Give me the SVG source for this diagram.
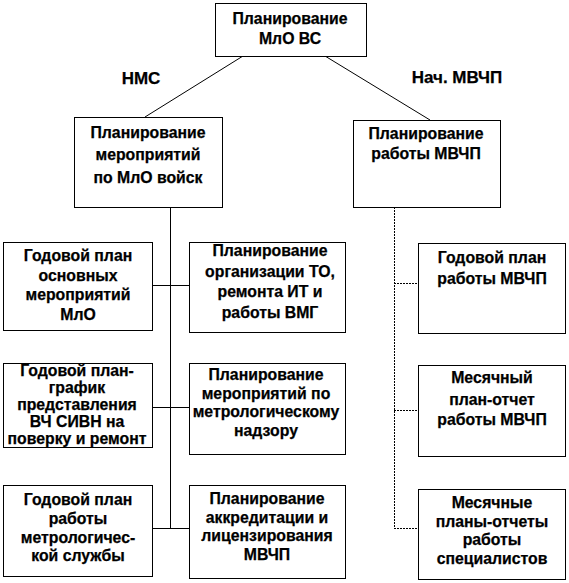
<svg xmlns="http://www.w3.org/2000/svg" width="569" height="583" viewBox="0 0 569 583">
<style>
.box{fill:#fff;stroke:#000;stroke-width:1}
.t{font-family:"Liberation Sans",Arial,sans-serif;font-weight:bold;font-size:15.8px;fill:#000;stroke:#000;stroke-width:0.25;text-anchor:middle}
.lbl{font-size:17px}
.c{fill:none;stroke:#000;stroke-width:1}
.d{fill:none;stroke:#000;stroke-width:1;stroke-dasharray:2 1}
</style>
<rect width="569" height="583" fill="#fff"/>
<g id="connectors">
<line class="c" x1="243" y1="56" x2="145" y2="117"/>
<line class="c" x1="325" y1="56" x2="430" y2="120"/>
<line class="c" x1="170.5" y1="207" x2="170.5" y2="528"/>
<line class="c" x1="152" y1="285.5" x2="189" y2="285.5"/>
<line class="c" x1="152" y1="407.5" x2="189" y2="407.5"/>
<line class="c" x1="152" y1="528.5" x2="189" y2="528.5"/>
<line class="d" x1="394.5" y1="207" x2="394.5" y2="528"/>
<line class="d" x1="394" y1="283.5" x2="418" y2="283.5"/>
<line class="d" x1="394" y1="410.5" x2="418" y2="410.5"/>
<line class="d" x1="394" y1="528.5" x2="418" y2="528.5"/>
</g>
<g id="labels">
<text class="t lbl" x="141" y="83.5">НМС</text>
<text class="t lbl" x="457" y="82.5">Нач. МВЧП</text>
</g>
<g id="top">
<rect class="box" x="215.5" y="3.5" width="151" height="53"/>
<text class="t" x="290" y="24">Планирование</text>
<text class="t" x="290" y="43.5">МлО ВС</text>
</g>
<g id="plan-troops">
<rect class="box" x="74.5" y="117.5" width="148" height="90"/>
<text class="t" x="148" y="138">Планирование</text>
<text class="t" x="148" y="160">мероприятий</text>
<text class="t" x="148" y="183">по МлО войск</text>
</g>
<g id="plan-mvchp">
<rect class="box" x="353.5" y="120.5" width="147" height="87"/>
<text class="t" x="426" y="139">Планирование</text>
<text class="t" x="426" y="159">работы МВЧП</text>
</g>
<g id="n1">
<rect class="box" x="3.5" y="242.5" width="149" height="88"/>
<text class="t" x="78" y="261">Годовой план</text>
<text class="t" x="78" y="280.5">основных</text>
<text class="t" x="78" y="300">мероприятий</text>
<text class="t" x="78" y="320">МлО</text>
</g>
<g id="n2">
<rect class="box" x="189.5" y="242.5" width="156" height="90"/>
<text class="t" x="270" y="256">Планирование</text>
<text class="t" x="270" y="277">организации ТО,</text>
<text class="t" x="270" y="297">ремонта ИТ и</text>
<text class="t" x="270" y="318">работы ВМГ</text>
</g>
<g id="n3">
<rect class="box" x="418.5" y="243.5" width="147" height="90"/>
<text class="t" x="492" y="263">Годовой план</text>
<text class="t" x="492" y="284">работы МВЧП</text>
</g>
<g id="n4">
<rect class="box" x="3.5" y="363.5" width="149" height="84"/>
<text class="t" x="77" y="376">Годовой план-</text>
<text class="t" x="77" y="393">график</text>
<text class="t" x="77" y="410">представления</text>
<text class="t" x="77" y="427">ВЧ  СИВН на</text>
<text class="t" x="77" y="444">поверку и ремонт</text>
</g>
<g id="n5">
<rect class="box" x="189.5" y="363.5" width="156" height="91"/>
<text class="t" x="266" y="380">Планирование</text>
<text class="t" x="266" y="399">мероприятий по</text>
<text class="t" x="266" y="417">метрологическому</text>
<text class="t" x="266" y="436">надзору</text>
</g>
<g id="n6">
<rect class="box" x="418.5" y="365.5" width="147" height="91"/>
<text class="t" x="492" y="383">Месячный</text>
<text class="t" x="492" y="405">план-отчет</text>
<text class="t" x="492" y="425">работы МВЧП</text>
</g>
<g id="n7">
<rect class="box" x="3.5" y="485.5" width="149" height="91"/>
<text class="t" x="78" y="505">Годовой план</text>
<text class="t" x="78" y="524">работы</text>
<text class="t" x="78" y="543">метрологичес-</text>
<text class="t" x="78" y="561">кой службы</text>
</g>
<g id="n8">
<rect class="box" x="189.5" y="485.5" width="156" height="93"/>
<text class="t" x="267" y="504">Планирование</text>
<text class="t" x="267" y="523">аккредитации и</text>
<text class="t" x="267" y="541">лицензирования</text>
<text class="t" x="267" y="560">МВЧП</text>
</g>
<g id="n9">
<rect class="box" x="418.5" y="489.5" width="147" height="90"/>
<text class="t" x="492" y="508">Месячные</text>
<text class="t" x="492" y="527">планы-отчеты</text>
<text class="t" x="492" y="545">работы</text>
<text class="t" x="492" y="564">специалистов</text>
</g>
</svg>
